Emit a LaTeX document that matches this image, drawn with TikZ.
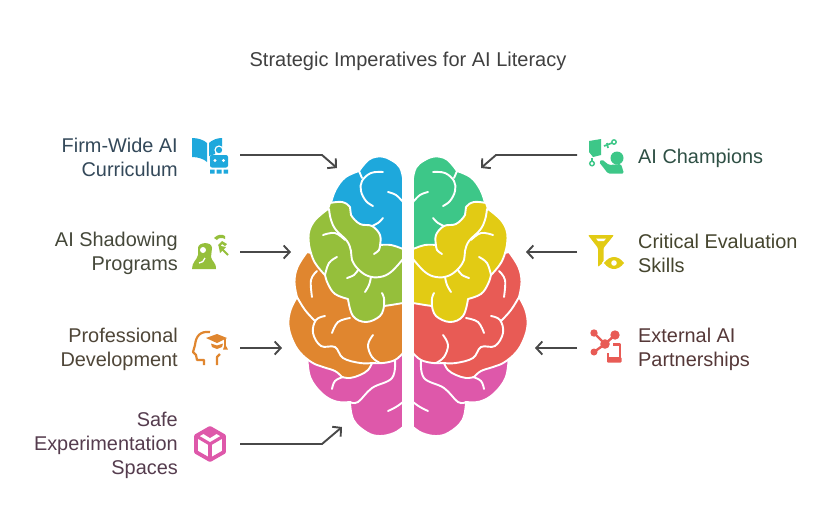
\documentclass[tikz,border=0pt]{standalone}
\usepackage{fontspec}
\setmainfont{Liberation Sans}
\usetikzlibrary{arrows.meta}
\definecolor{cblue}{HTML}{1EA8DC}
\definecolor{cgreen}{HTML}{95BF3B}
\definecolor{corange}{HTML}{E0862F}
\definecolor{cpink}{HTML}{DE58AA}
\definecolor{cteal}{HTML}{3DC788}
\definecolor{cyellow}{HTML}{E2CB14}
\definecolor{cred}{HTML}{E85B55}
\definecolor{tblue}{HTML}{34495A}
\definecolor{tgreen}{HTML}{45483A}
\definecolor{torange}{HTML}{4F4638}
\definecolor{tpink}{HTML}{553C4E}
\definecolor{tteal}{HTML}{2F5045}
\definecolor{tyellow}{HTML}{45452E}
\definecolor{tred}{HTML}{553838}
\definecolor{ttitle}{HTML}{404040}
\definecolor{conn}{HTML}{484848}
\tikzset{
  lobe/.style={draw=white,line width=1.9pt,line join=round},
  fold/.style={draw=white,line width=1.9pt,line cap=round},
  sm/.style={smooth,tension=0.65},
  lab/.style={font=\fontsize{19.9}{24}\selectfont,inner sep=0pt},
  labl/.style={lab,align=right,anchor=east},
  labr/.style={lab,align=left,anchor=west},
  linkline/.style={draw=conn,line width=1.9pt,-{Straight Barb[length=6pt,width=13pt,line width=1.9pt]}},
}
\newcommand{\Hemi}[3]{%
  % pink
  \path[lobe,fill=cpink] plot[sm] coordinates {(307.5,360)(310.5,378)(322,393.5)(336,401.5)(350,402)}
     -- plot[sm] coordinates {(350,402)(353.5,420)(367,432.5)(380,436)(394,433)(403,427)}
     -- (403,340) -- (308,340) -- cycle;
  % orange
  \path[lobe,fill=#3] plot[sm] coordinates {(307,252)(297.5,267)(294.5,282)(297,297)}
     -- plot[sm] coordinates {(297,297)(290.5,310)(288.5,325)(292.5,340)(300,352.5)(312,362.5)(323,367)(335,371)(342,377)}
     -- plot[sm] coordinates {(342,377)(350,378)(360,375)(368,370)(372,363)}
     -- plot[sm] coordinates {(372,363)(383,363)(395,360)(403,353)}
     -- (403,290) -- (340,260) -- cycle;
  % blue
  \path[lobe,fill=#1] (403,255) -- (403,178)
     -- plot[sm] coordinates {(403,178)(400,167.5)(392,160.5)(381,156.5)(369,159.5)(359,171)}
     -- plot[sm] coordinates {(359,171)(345,177.5)(335.5,190)(331,203)}
     -- (345,255) -- cycle;
  % green
  \path[lobe,fill=#2] plot[sm] coordinates {(330,203)(342,202)(350,207)(351,215)(360,224)(372,226)(380,235)(380,245)}
     -- plot[sm] coordinates {(380,245)(391,245)(403,249)}
     -- (403,303)
     -- plot[sm] coordinates {(403,303)(391,305)(384,306)}
     -- plot[sm] coordinates {(384,306)(380,316)(366,322)(353,316)(348,299)}
     -- plot[sm] coordinates {(348,299)(335,294)(328,284)(325,275)}
     -- plot[sm] coordinates {(325,275)(313.5,260)(308.5,238)(313.5,222)(328,209)}
     -- cycle;
  % folds: blue
  \draw[fold] (359,171) -- (362,178);
  \draw[fold] plot[sm] coordinates {(383,172)(371,173)(362,181)(361,191)(366,201)(373,206)};
  \draw[fold] plot[sm] coordinates {(388,192)(396,195)(403,202)};
  \draw[fold] plot[sm] coordinates {(383,218)(378,223)(372,226)};
  % folds: green
  \draw[fold] plot[sm] coordinates {(329,209)(331,220)(336,230)(347,241)(351,251)(352,260)(358,269)(368,276)(380,277)(391,272)(403,259)};
  \draw[fold] plot[sm] coordinates {(323,235)(335,233)(345,240)};
  \draw[fold] plot[sm] coordinates {(337,257)(329,263)(325,275)};
  \draw[fold] plot[sm] coordinates {(347,278)(354,275)(358,270)};
  \draw[fold] plot[sm] coordinates {(365,292)(369,285)(371,277)};
  \draw[fold] plot[sm] coordinates {(382,293)(384,298)(384,306)};
  \draw[fold] plot[sm] coordinates {(374,254)(379,250)(380,245)};
  % folds: orange
  \draw[fold] plot[sm] coordinates {(317,271)(311,280)(312,297)};
  \draw[fold] plot[sm] coordinates {(297,297)(305,310)(315,321)};
  \draw[fold] plot[sm] coordinates {(325,316)(316,320)(313,333)(321,346)(335,347)(343,358)(360,363)(372,363)};
  \draw[fold] plot[sm] coordinates {(332,333)(338,322)(350,318)};
  \draw[fold] plot[sm] coordinates {(373,335)(368,345)(372,357)(380,363)};
  % folds: pink
  \draw[fold] plot[sm] coordinates {(395,360)(392,378)(372,388)(358,402)(350,402)};
  \draw[fold] plot[sm] coordinates {(332,389)(335,381)(343,377)};
  \draw[fold] plot[sm] coordinates {(388,411)(396,407)(403,402)};
}
\begin{document}
\begin{tikzpicture}[x=1pt,y=-1pt]
\useasboundingbox (0,0) rectangle (828,528);
\fill[white] (0,0) rectangle (828,528);
\node[font=\fontsize{20}{24}\selectfont,text=ttitle,inner sep=0pt] (title) at (408,61.5) {Strategic Imperatives for AI Literacy};

\Hemi{cblue}{cgreen}{corange}
\begin{scope}[xshift=816pt,xscale=-1]
\Hemi{cteal}{cyellow}{cred}
\end{scope}

% labels
\node[labl,text=tblue] (l1) at (178,157.5) {Firm-Wide AI\\Curriculum};
\node[labl,text=tgreen] (l2) at (178,253.5) {AI Shadowing\\Programs};
\node[labl,text=torange] (l3) at (178,349.5) {Professional\\Development};
\node[labl,text=tpink] (l4) at (178,445.5) {Safe\\Experimentation\\Spaces};
\node[labr,text=tteal] (r1) at (638,158) {AI Champions};
\node[labr,text=tyellow] (r2) at (638,253.5) {Critical Evaluation\\Skills};
\node[labr,text=tred] (r3) at (638,349.5) {External AI\\Partnerships};

% connectors
\coordinate (a1) at (240,155); \coordinate (a1m) at (322,155); \coordinate (a1e) at (337,168);
\coordinate (a2) at (240,252); \coordinate (a2e) at (291,252);
\coordinate (a3) at (240,348); \coordinate (a3e) at (282,348);
\coordinate (a4) at (240,444); \coordinate (a4m) at (322,444); \coordinate (a4e) at (342,427);
\coordinate (b1) at (577,155); \coordinate (b1m) at (496,155); \coordinate (b1e) at (481,168);
\coordinate (b2) at (577,252); \coordinate (b2e) at (526,252);
\coordinate (b3) at (577,348); \coordinate (b3e) at (535,348);
\draw[linkline] (a1) -- (a1m) -- (a1e);
\draw[linkline] (a2) -- (a2e);
\draw[linkline] (a3) -- (a3e);
\draw[linkline] (a4) -- (a4m) -- (a4e);
\draw[linkline] (b1) -- (b1m) -- (b1e);
\draw[linkline] (b2) -- (b2e);
\draw[linkline] (b3) -- (b3e);

% icon 1: book and robot
\fill[cblue] (192,138) .. controls (198,138) and (204,140) .. (207,143) -- (207,162) .. controls (204,159) and (198,157) .. (192,157) -- cycle;
\fill[cblue] (209,143) .. controls (212,140) and (217,138) .. (222,138) -- (222,147) -- (222,150) -- (216,150) -- (215,154) -- (209,156) -- (209,160) -- cycle;
\fill[white] (219,150) circle (4.6);
\fill[cblue] (219,150) circle (3.2);
\fill[cblue,rounded corners=2pt] (210,155) rectangle (228,167.5);
\fill[white] (215,160.5) circle (1.7) (223.5,160.5) circle (1.7);
\fill[cblue] (210,169.5) rectangle (214.5,173.5) (216.5,169.5) rectangle (221.5,173.5) (223.5,169.5) rectangle (228,173.5);

% icon 2: silhouette
\fill[cgreen] (192,269) .. controls (192,262) and (197,260) .. (198,255) -- (198,248)
  .. controls (198,242) and (212,241) .. (212,248) -- (211,257) .. controls (212,262) and (216,262) .. (216,269) -- cycle;
\fill[white] (203,250) circle (3);
\draw[white,line width=1.3pt] (199,263) .. controls (202,263) and (204,261) .. (205,258);
\fill[cgreen] (214,238) .. controls (218,234) and (222,234) .. (225,236) -- (225,239) .. controls (222,237) and (218,238) .. (217,240) -- cycle;
\fill[cgreen] (218,245) -- (222,241) -- (227,244) -- (225,246) -- (222,244) -- (220,247) -- cycle;
\draw[cgreen,line width=1.8pt] (228,255) -- (221,248);
\fill[cgreen] (218.5,245.5) -- (226,247) -- (220,253) -- cycle;

% icon 3: head with cap
\draw[corange,line width=2.2pt,line join=round] (210,332) .. controls (200,331) and (196,336) .. (195,345) -- (193,352) -- (196,355) -- (197,360) -- (204,360) -- (204,365);
\draw[corange,line width=2.2pt,line join=round] (217,365) -- (217,357) -- (220,354);
\fill[corange] (206,338) -- (217,334) -- (227,338) -- (217,343) -- cycle;
\fill[corange] (211,343.5) -- (217,345.5) -- (223,343.5) -- (222,347) -- (217,349) -- (212,347) -- cycle;
\draw[corange,line width=1.1pt] (225,339) -- (225,346);
\fill[corange] (223,349.5) -- (225,344) -- (228,349.5) -- cycle;

% icon 4: box
\draw[cpink,line width=3.8pt,line join=round] (210,428) -- (224,436) -- (224,452) -- (210,460) -- (196,452) -- (196,436) -- cycle;
\fill[cpink] (202,433) -- (210,428) -- (218,433) -- (210,438) -- cycle;
\draw[cpink,line width=3.2pt] (198,437) -- (210,444) -- (222,437);
\draw[cpink,line width=3.2pt] (210,444) -- (210,460);

% icon 5: champion
\fill[cteal] (589,141) -- (601,139) -- (601,155) -- (593,157) -- (589,152) -- cycle;
\draw[cteal,line width=1.4pt] (614,142) circle (2.2);
\draw[cteal,line width=1.7pt] (604,146) -- (612,143) (607,143) -- (608,148);
\draw[cteal,line width=1.4pt] (592,163.5) circle (2.3);
\draw[cteal,line width=1.4pt] (592,161) -- (592,158);
\fill[cteal] (617,158) circle (6.5);
\fill[cteal,rounded corners=1.5pt] (599,162) -- (602,159.5) -- (609,165) -- (621,164) -- (624,173.5) -- (608,173.5) -- cycle;

% icon 6: funnel and eye
\fill[cyellow,rounded corners=1pt] (588,235) -- (614,235) -- (603.5,248) -- (603.5,262) -- (598,267) -- (598,248) -- cycle;
\fill[white] (596,238.5) -- (606,238.5) -- (604,241) -- (598,241) -- cycle;
\fill[white] (602,263) .. controls (609,253) and (619,253) .. (626,263) .. controls (619,273) and (609,273) .. (602,263) -- cycle;
\fill[cyellow] (604,263) .. controls (610,255) and (618,255) .. (624,263) .. controls (618,271) and (610,271) .. (604,263) -- cycle;
\fill[white] (614,263) circle (2.8);

% icon 7: network and phone
\draw[cred,line width=2.4pt] (594,333) -- (605,344) -- (615,335) (605,344) -- (594,352);
\fill[cred] (594,333) circle (3.7) (615,335) circle (4.7) (594,352) circle (3.5) (605,344) circle (4.8);
\draw[cred,line width=2.8pt,line join=round] (613,344.5) -- (620,344.5) -- (620,360) -- (608,360) -- (608,353);
\fill[cred,rounded corners=1pt] (607,357) rectangle (621.5,362.5);
\end{tikzpicture}
\end{document}
